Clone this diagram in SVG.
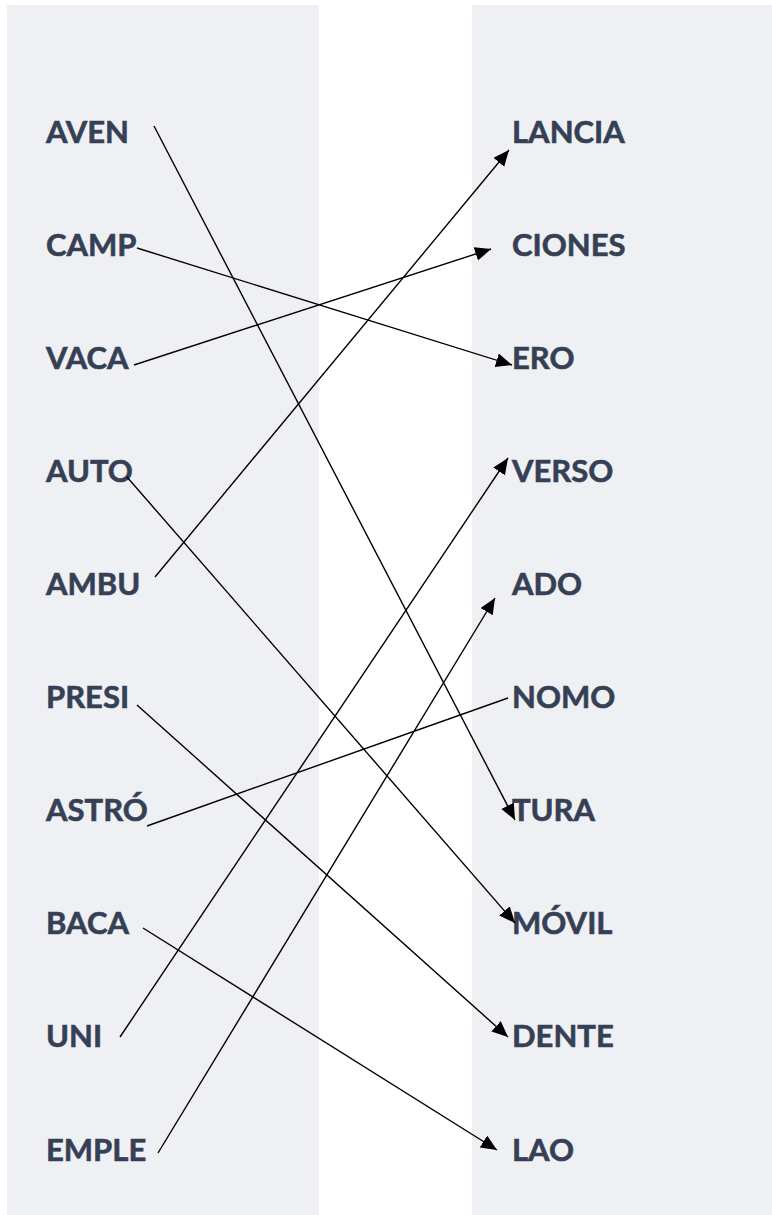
<svg xmlns="http://www.w3.org/2000/svg" width="772" height="1215" viewBox="0 0 772 1215">
<style>
.panel{fill:#eff0f4}
.t{font-family:Lato,"Open Sans","Liberation Sans",sans-serif;font-weight:700;font-size:31px;fill:#364055;stroke:#364055;stroke-width:0.6}
.c{stroke:#000;stroke-width:1.4;fill:none}
.a{marker-end:url(#ah)}
</style>
<defs>
<marker id="ah" markerUnits="userSpaceOnUse" markerWidth="18" markerHeight="16" refX="16" refY="7" orient="auto">
<path d="M0,0 L16,7 L0,14 z" fill="#000"/>
</marker>
</defs>
<rect width="772" height="1215" fill="#fff"/>
<rect class="panel" x="7" y="5" width="312" height="1210"/>
<rect class="panel" x="472" y="5" width="300" height="1210"/>
<g id="left-aven"><text class="t" x="46" y="143">AVEN</text></g>
<g id="left-camp"><text class="t" x="46" y="256">CAMP</text></g>
<g id="left-vaca"><text class="t" x="46" y="369">VACA</text></g>
<g id="left-auto"><text class="t" x="46" y="482">AUTO</text></g>
<g id="left-ambu"><text class="t" x="46" y="595">AMBU</text></g>
<g id="left-presi"><text class="t" x="46" y="708">PRESI</text></g>
<g id="left-astro"><text class="t" x="46" y="821">ASTRÓ</text></g>
<g id="left-baca"><text class="t" x="46" y="934">BACA</text></g>
<g id="left-uni"><text class="t" x="46" y="1047">UNI</text></g>
<g id="left-emple"><text class="t" x="46" y="1161">EMPLE</text></g>
<g id="right-lancia"><text class="t" x="512" y="143">LANCIA</text></g>
<g id="right-ciones"><text class="t" x="512" y="256">CIONES</text></g>
<g id="right-ero"><text class="t" x="512" y="369">ERO</text></g>
<g id="right-verso"><text class="t" x="512" y="482">VERSO</text></g>
<g id="right-ado"><text class="t" x="512" y="595">ADO</text></g>
<g id="right-nomo"><text class="t" x="512" y="708">NOMO</text></g>
<g id="right-tura"><text class="t" x="512" y="821">TURA</text></g>
<g id="right-movil"><text class="t" x="512" y="934">MÓVIL</text></g>
<g id="right-dente"><text class="t" x="512" y="1047">DENTE</text></g>
<g id="right-lao"><text class="t" x="512" y="1161">LAO</text></g>
<g id="connectors">
<line class="c a" x1="154" y1="126" x2="515" y2="820"/>
<line class="c a" x1="137" y1="248" x2="512" y2="365"/>
<line class="c a" x1="134" y1="365" x2="491" y2="249"/>
<line class="c a" x1="127" y1="477" x2="515" y2="923"/>
<line class="c a" x1="155" y1="577" x2="509" y2="150"/>
<line class="c a" x1="137" y1="705" x2="508" y2="1037"/>
<line class="c" x1="147" y1="826" x2="508" y2="698"/>
<line class="c a" x1="143" y1="928" x2="497" y2="1150"/>
<line class="c a" x1="120" y1="1037" x2="508" y2="458"/>
<line class="c a" x1="158" y1="1153" x2="495" y2="598"/>
</g>
</svg>
